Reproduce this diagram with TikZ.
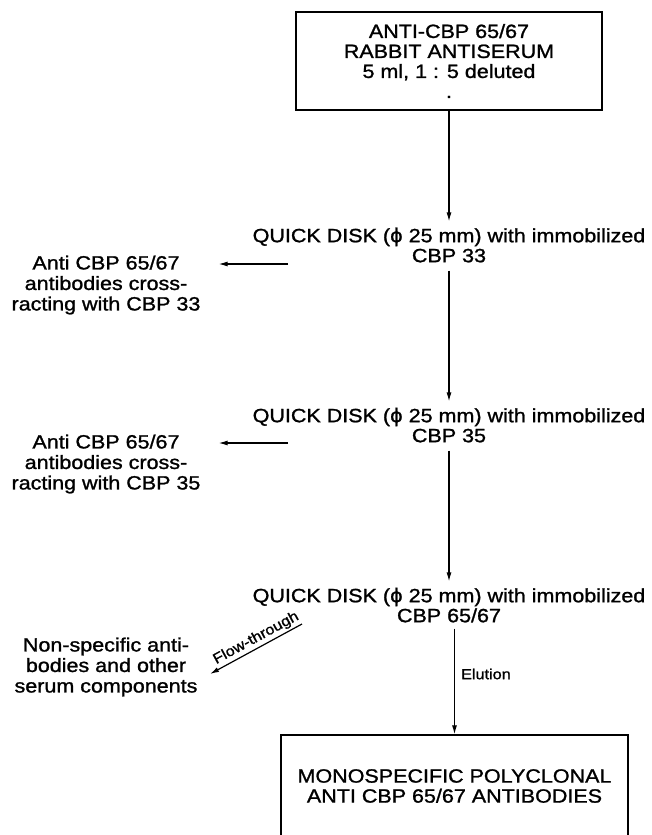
\documentclass[tikz,border=0pt]{standalone}
\usepackage{fontspec}
\setmainfont{Liberation Sans}[FakeStretch=1.12,FakeBold=1.2]
\newfontfamily\phifont{DejaVu Sans}[FakeBold=1.2]
\usetikzlibrary{arrows.meta,positioning}
\newcommand{\phisign}{{\phifont ϕ}}

\begin{document}
\begin{tikzpicture}[x=1pt,y=-1pt,
    every node/.style={font=\fontsize{19.2}{20}\selectfont},
    box/.style={draw, line width=1.3pt, inner sep=0pt, align=center},
    disk/.style={align=center, inner sep=2pt},
    side/.style={align=center, inner sep=2pt, font=\fontsize{19.2}{20.5}\selectfont},
    lab/.style={font=\fontsize{14.5}{16}\selectfont, inner sep=1pt},
    flow/.style={-{Latex[length=9pt,width=5pt]}, line width=1.2pt},
    backflow/.style={{Latex[length=9pt,width=5pt]}-, line width=1.2pt}
  ]
    \useasboundingbox (0,0) rectangle (652,835);
    \clip (0,0) rectangle (652,835);
    % serum box and the three disks
    \node[box, minimum width=306pt, minimum height=98pt] (serum) at (449,61) {ANTI-CBP 65/67\\RABBIT ANTISERUM\\5 ml, 1 : 5 deluted\\.};
    \node[disk] (disk1) at (449,245) {QUICK DISK (\phisign\ 25 mm) with immobilized\\CBP 33};
    \node[disk] (disk2) at (449,425) {QUICK DISK (\phisign\ 25 mm) with immobilized\\CBP 35};
    \node[disk] (disk3) at (449,605) {QUICK DISK (\phisign\ 25 mm) with immobilized\\CBP 65/67};
    \node[box, minimum width=347pt, minimum height=102pt] (result) at (454.5,786) {MONOSPECIFIC POLYCLONAL\\ANTI CBP 65/67 ANTIBODIES};
    % what is held back on the left
    \node[side] (cross1) at (106,285) {Anti CBP 65/67\\antibodies cross-\\racting with CBP 33};
    \node[side] (cross2) at (106,464) {Anti CBP 65/67\\antibodies cross-\\racting with CBP 35};
    \node[side] (waste) at (106,667) {Non-specific anti-\\bodies and other\\serum components};
    \coordinate (out1) at (288,264);
    \coordinate (out2) at (288,443);
    \coordinate (out3) at (302,624);
    \coordinate (in3) at (210,674);
    % connectors
    \draw[flow, shorten >=4pt] (serum.south) -- (disk1.north);
    \draw[flow, shorten <=6pt, shorten >=4pt] (disk1) -- (disk2);
    \draw[flow, shorten <=6pt, shorten >=4pt] (disk2) -- (disk3);
    \draw[flow, shorten <=4pt] (disk3.south -| result.north) -- node[lab, right=5pt, pos=0.45] (elute) {Elution} (result.north);
    \draw[flow, shorten >=16pt] (out1) -- (cross1.east |- out1);
    \draw[flow, shorten >=16pt] (out2) -- (cross2.east |- out2);
    \draw[backflow] (in3) -- node[lab, sloped, above=1pt, pos=0.55] (flowtxt) {Flow-through} (out3);
\end{tikzpicture}
\end{document}
